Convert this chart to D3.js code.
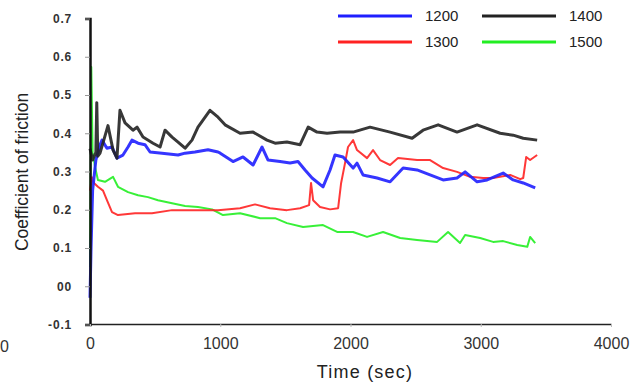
<!DOCTYPE html>
<html>
<head>
<meta charset="utf-8">
<script src="https://cdn.jsdelivr.net/npm/d3@7"></script>
<style>
  body { margin: 0; background: #fff; }
  svg { display: block; font-family: "Liberation Sans", Arial, sans-serif; }
</style>
</head>
<body>
<svg id="chart"></svg>
<script>
(function() {

// ---------- data ----------
const t1200 = [0, 8, 20, 45, 77, 92, 130, 169, 207, 253, 292, 322, 369, 422, 461, 553, 676, 730, 806, 906, 983, 1000, 1098, 1175, 1252, 1321, 1367, 1459, 1536, 1597, 1651, 1705, 1789, 1843, 1881, 1943, 2020, 2050, 2096, 2204, 2304, 2404, 2511, 2611, 2711, 2818, 2880, 2972, 3049, 3172, 3249, 3326, 3418];
const c1200 = [-0.03, 0.1, 0.25, 0.33, 0.37, 0.382, 0.361, 0.364, 0.335, 0.343, 0.364, 0.382, 0.374, 0.37, 0.351, 0.348, 0.343, 0.348, 0.351, 0.357, 0.351, 0.348, 0.326, 0.338, 0.317, 0.364, 0.33, 0.326, 0.322, 0.326, 0.304, 0.283, 0.26, 0.304, 0.343, 0.338, 0.309, 0.322, 0.291, 0.283, 0.273, 0.309, 0.304, 0.291, 0.278, 0.283, 0.299, 0.273, 0.278, 0.296, 0.278, 0.27, 0.257];

const t1300 = [0, 15, 30, 61, 100, 130, 169, 215, 346, 476, 630, 783, 983, 1152, 1267, 1382, 1512, 1613, 1682, 1697, 1713, 1766, 1843, 1905, 1928, 1958, 1981, 2020, 2050, 2127, 2173, 2227, 2304, 2365, 2511, 2611, 2711, 2818, 2918, 3018, 3095, 3226, 3303, 3326, 3349, 3379, 3433];
const c1300 = [0.25, 0.285, 0.27, 0.26, 0.25, 0.225, 0.194, 0.186, 0.191, 0.191, 0.199, 0.199, 0.199, 0.204, 0.214, 0.204, 0.199, 0.204, 0.212, 0.27, 0.225, 0.207, 0.201, 0.204, 0.27, 0.322, 0.364, 0.382, 0.356, 0.335, 0.356, 0.33, 0.317, 0.335, 0.33, 0.33, 0.309, 0.299, 0.286, 0.283, 0.283, 0.291, 0.28, 0.283, 0.338, 0.33, 0.343];

const t1400 = [0, 20, 45, 52, 60, 77, 138, 177, 207, 230, 269, 330, 361, 407, 484, 538, 576, 630, 676, 730, 783, 829, 921, 983, 1037, 1152, 1252, 1359, 1421, 1512, 1613, 1675, 1743, 1820, 1920, 2020, 2150, 2304, 2473, 2557, 2673, 2818, 2972, 3149, 3249, 3326, 3433];
const c1400 = [0.36, 0.33, 0.35, 0.48, 0.34, 0.348, 0.42, 0.356, 0.335, 0.46, 0.427, 0.408, 0.416, 0.39, 0.374, 0.364, 0.408, 0.39, 0.377, 0.361, 0.382, 0.416, 0.46, 0.442, 0.422, 0.4, 0.403, 0.382, 0.374, 0.377, 0.37, 0.416, 0.403, 0.4, 0.403, 0.403, 0.416, 0.403, 0.387, 0.408, 0.422, 0.403, 0.422, 0.4, 0.395, 0.387, 0.382];

const t1500 = [0, 10, 20, 40, 61, 115, 177, 215, 292, 369, 445, 522, 630, 730, 829, 937, 1021, 1152, 1306, 1421, 1512, 1636, 1789, 1897, 2020, 2127, 2250, 2381, 2511, 2665, 2749, 2841, 2880, 2995, 3095, 3172, 3280, 3357, 3379, 3418];
const c1500 = [0.05, 0.573, 0.35, 0.31, 0.278, 0.273, 0.286, 0.26, 0.246, 0.238, 0.233, 0.225, 0.217, 0.21, 0.207, 0.201, 0.186, 0.191, 0.178, 0.178, 0.165, 0.155, 0.16, 0.142, 0.142, 0.129, 0.142, 0.126, 0.121, 0.116, 0.142, 0.113, 0.134, 0.126, 0.116, 0.118, 0.108, 0.103, 0.129, 0.113];

const seriesNames = ["1200", "1300", "1400", "1500"];
const seriesColors = ["#1f1fff", "#ff2222", "#222222", "#22ee22"];
const seriesWidths = [3, 2, 3, 2];

const xTicks = [0, 1000, 2000, 3000, 4000];
const yTicks = [-0.1, 0, 0.1, 0.2, 0.3, 0.4, 0.5, 0.6, 0.7];
const yTickLabels = ["-0.1", "00", "0.1", "0.2", "0.3", "0.4", "0.5", "0.6", "0.7"];

// ---------- layout ----------
const width = 641, height = 383;
const x = d3.scaleLinear().domain([0, 4000]).range([90, 611]);
const y = d3.scaleLinear().domain([-0.1, 0.7]).range([324.5, 18.5]);

const svg = d3.select("#chart").attr("width", width).attr("height", height);

// lines
const series = [
  { t: t1200, c: c1200 },
  { t: t1300, c: c1300 },
  { t: t1400, c: c1400 },
  { t: t1500, c: c1500 }
];
const line = d3.line().x(d => x(d[0])).y(d => y(d[1]));

// draw order: green, red, blue, black
[3, 1, 0, 2].forEach(i => {
  const pts = series[i].t.map((t, k) => [t, series[i].c[k]]);
  svg.append("path")
    .datum(pts)
    .attr("d", line)
    .attr("fill", "none")
    .attr("stroke", seriesColors[i])
    .attr("stroke-width", seriesWidths[i])
    .attr("stroke-linejoin", "round")
    .attr("opacity", 0.9);
});

// y axis
const yAxis = d3.axisLeft(y)
  .tickValues(yTicks)
  .tickSize(5)
  .tickPadding(13)
  .tickFormat((d, i) => yTickLabels[i]);
const gy = svg.append("g").attr("transform", "translate(90,0)").call(yAxis);
gy.select(".domain").attr("stroke", "#111").attr("stroke-width", 2.5);
gy.selectAll(".tick line").attr("stroke", "#999");
gy.selectAll(".tick text")
  .attr("font-size", 12)
  .attr("font-weight", "bold")
  .attr("letter-spacing", 0.8)
  .attr("fill", "#333");

// x axis
const xAxis = d3.axisBottom(x)
  .tickValues(xTicks)
  .tickSize(3)
  .tickPadding(11)
  .tickSizeOuter(0)
  .tickFormat(d3.format("d"));
const gx = svg.append("g").attr("transform", "translate(0,324)").call(xAxis);
gx.select(".domain").attr("stroke", "#222").attr("stroke-width", 1.5);
gx.selectAll(".tick line").attr("stroke", "#bbb");
gx.selectAll(".tick text")
  .attr("font-size", 16)
  .attr("fill", "#333");

// label fragment at far left edge
svg.append("text")
  .attr("x", 0).attr("y", 352)
  .attr("font-size", 16).attr("fill", "#333")
  .text("0");

// axis titles
svg.append("text")
  .attr("transform", "translate(28,172) rotate(-90)")
  .attr("text-anchor", "middle")
  .attr("font-size", 17.5)
  .attr("fill", "#222")
  .text("Coefficient of friction");

svg.append("text")
  .attr("x", 365).attr("y", 378)
  .attr("text-anchor", "middle")
  .attr("font-size", 18)
  .attr("fill", "#222")
  .attr("letter-spacing", 1.2)
  .text("Time (sec)");

// legend
const legendPos = [[338, 16], [338, 42], [482, 16], [482, 42]];
seriesNames.forEach((name, i) => {
  const [lx, ly] = legendPos[i];
  svg.append("line")
    .attr("x1", lx).attr("x2", lx + 74)
    .attr("y1", ly).attr("y2", ly)
    .attr("stroke", seriesColors[i])
    .attr("stroke-width", 3);
  svg.append("text")
    .attr("x", lx + 87).attr("y", ly + 5)
    .attr("font-size", 15)
    .attr("fill", "#222")
    .text(name);
});

})();
</script>
</body>
</html>
